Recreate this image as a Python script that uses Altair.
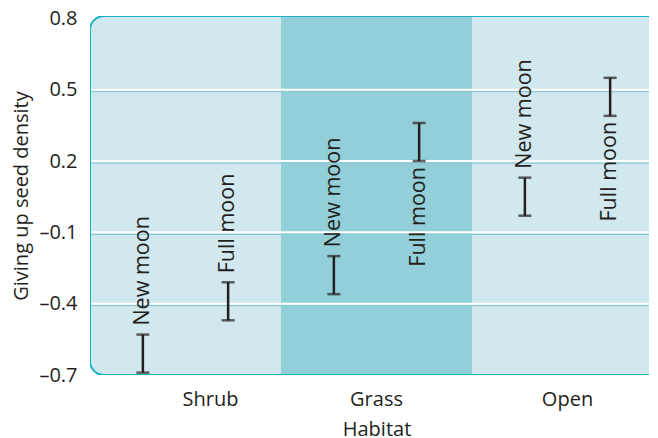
import altair as alt
import pandas as pd

habitats = ["Shrub", "Grass", "Open"]
phases = ["New moon", "Full moon"]
low_new = [-0.69, -0.36, -0.03]
high_new = [-0.53, -0.20, 0.13]
low_full = [-0.47, 0.20, 0.39]
high_full = [-0.31, 0.36, 0.55]
y_ticks = [0.8, 0.5, 0.2, -0.1, -0.4, -0.7]
y_title = "Giving up seed density"
x_title = "Habitat"

rows = []
for i, h in enumerate(habitats):
    rows.append(dict(habitat=h, phase=phases[0], low=low_new[i], high=high_new[i]))
    rows.append(dict(habitat=h, phase=phases[1], low=low_full[i], high=high_full[i]))
df = pd.DataFrame(rows)
bands = pd.DataFrame({"habitat": habitats})
grid = pd.DataFrame({"v": y_ticks[1:-1]})
one = pd.DataFrame({"a": [0]})

W, H = 559, 359
XR = 573
FONT = "Open Sans"
INK = "#231f20"
LIGHT = "#d0e8ee"
GRASS = "#93cfd9"
BORDER = "#18b2c4"

xscale = alt.Scale(domain=habitats, paddingInner=0, paddingOuter=0, range=[0, XR])
yscale = alt.Scale(domain=[-0.7, 0.81], nice=False, zero=False)
offscale = alt.Scale(domain=phases, type="point", padding=0.62)

x_axis = alt.Axis(
    orient="bottom", labelAngle=0, domain=False, ticks=False, grid=False,
    labelFont=FONT, labelFontSize=20, labelColor=INK, labelPadding=14,
    labelOffset={"condition": {"test": "datum.value == 'Shrub'", "value": 25}, "value": 0},
    title=x_title, titleFont=FONT, titleFontSize=20, titleFontWeight="normal",
    titleColor=INK, titleX=XR / 2, titleY=60, titleBaseline="alphabetic",
    titleAlign="center",
)
y_axis = alt.Axis(
    values=y_ticks, domain=False, ticks=False, grid=False,
    labelExpr="datum.value < 0 ? '\u2013' + format(abs(datum.value), '.1f') : format(datum.value, '.1f')",
    labelFont=FONT, labelFontSize=20, labelColor=INK, labelPadding=13,
    title=y_title, titleFont=FONT, titleFontSize=20, titleFontWeight="normal",
    titleColor=INK, titleX=-69, titleY=H / 2, titleAngle=270,
    titleAlign="center", titleBaseline="middle",
)

X = lambda f: alt.X(f, scale=xscale, axis=x_axis)
Y = lambda f: alt.Y(f, scale=yscale, axis=y_axis)

# background: light rounded panel + darker Grass band
bg_fill = alt.Chart(one).mark_rect(fill=LIGHT, cornerRadius=14, clip=True).encode(
    x=alt.value(0), x2=alt.value(XR), y=alt.value(0), y2=alt.value(H)
)
grass = alt.Chart(bands).transform_window(
    i0="row_number()"
).transform_calculate(
    s="datum.i0 - 1", e="datum.i0"
).transform_filter("datum.habitat == 'Grass'").mark_rect(color=GRASS).encode(
    x=alt.X("s:Q", scale=alt.Scale(domain=[0, len(habitats)], range=[0, XR], nice=False, zero=False), axis=None),
    x2="e:Q",
    y=alt.value(0), y2=alt.value(H),
)
back = alt.layer(bg_fill, grass)

shadow = alt.Chart(grid).mark_rule(color="#8cc9d4", strokeWidth=1.2).encode(
    y=Y("v:Q"), yOffset=alt.value(2),
)
white = alt.Chart(grid).mark_rule(color="white", strokeWidth=2).encode(
    y=Y("v:Q"),
)
frame = alt.Chart(one).mark_rect(
    fillOpacity=0, stroke=BORDER, strokeWidth=2, cornerRadius=14, clip=True
).encode(
    x=alt.value(0), x2=alt.value(XR), y=alt.value(0), y2=alt.value(H)
)

base = alt.Chart(df).encode(
    x=X("habitat:N"),
    xOffset=alt.XOffset("phase:N", scale=offscale),
)
stems = base.mark_rule(color=INK, strokeWidth=2.5).encode(y=Y("low:Q"), y2="high:Q")
caps_low = base.mark_tick(orient="horizontal", size=13, thickness=2.5, color=INK).encode(y=Y("low:Q"))
caps_high = base.mark_tick(orient="horizontal", size=13, thickness=2.5, color=INK).encode(y=Y("high:Q"))

below_test = "datum.phase == 'Full moon' && datum.habitat != 'Shrub'"
text_above = base.transform_filter("!(" + below_test + ")").mark_text(
    angle=270, align="left", baseline="middle", dx=9,
    font=FONT, fontSize=21.5, color=INK,
).encode(y=Y("high:Q"), text="phase:N")
text_below = base.transform_filter(below_test).mark_text(
    angle=270, align="right", baseline="middle", dx=-6,
    font=FONT, fontSize=21.5, color=INK,
).encode(y=Y("low:Q"), text="phase:N")

front = alt.layer(shadow, white, frame, stems, caps_low, caps_high, text_above, text_below)

chart = alt.layer(back, front).resolve_scale(x="independent").properties(
    width=W, height=H,
    autosize=alt.AutoSizeParams(type="none"),
    padding={"left": 82, "top": 8, "right": 1, "bottom": 63},
).configure_view(
    fill="transparent", stroke="transparent"
)

chart.save("out.html", embed_options={"renderer": "svg", "actions": False})
